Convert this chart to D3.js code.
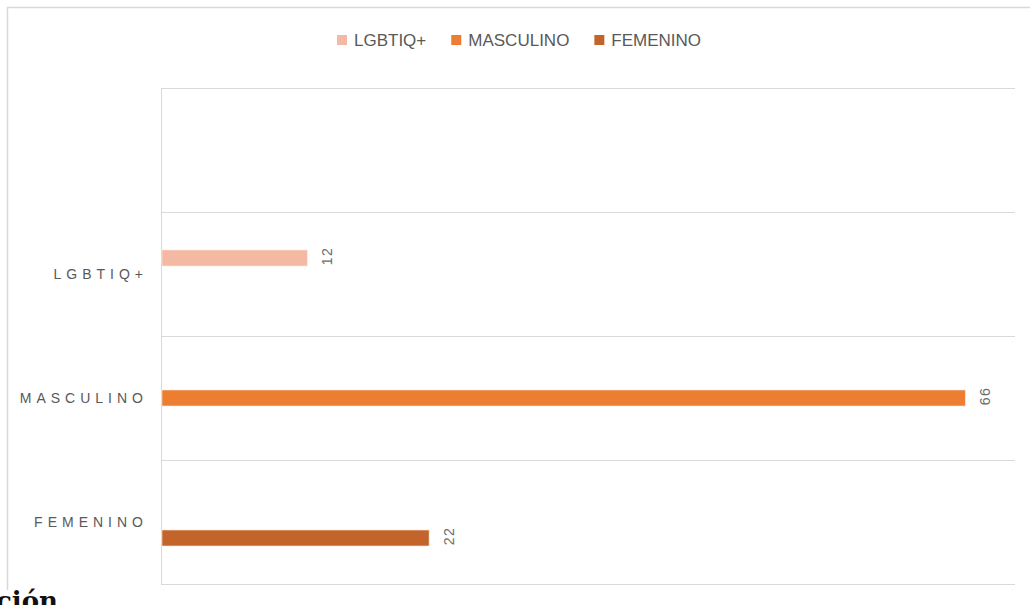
<!DOCTYPE html>
<html>
<head>
<meta charset="utf-8">
<script src="https://cdn.jsdelivr.net/npm/d3@7"></script>
<style>
  body { margin: 0; background: #fff; }
  svg { display: block; }
</style>
</head>
<body>
<svg width="1030" height="605"></svg>
<script>
// datos del grafico
var categorias = ["", "LGBTIQ+", "MASCULINO", "FEMENINO"];
var series = ["LGBTIQ+", "MASCULINO", "FEMENINO"];
var colores = ["#F4B9A3", "#ED7D31", "#C3652B"];
var valoresLgbtiq = [null, 12, null, null];
var valoresMasculino = [null, null, 66, null];
var valoresFemenino = [null, null, null, 22];
var valores = [valoresLgbtiq, valoresMasculino, valoresFemenino];

var svg = d3.select("svg");
var gris = "#595959";
var lineaGris = "#d9d9d9";

// marco exterior (solo borde superior e izquierdo visibles)
svg.append("line").attr("x1", 7).attr("y1", 7.5).attr("x2", 1030).attr("y2", 7.5)
  .style("stroke", lineaGris).style("stroke-width", 1.5);
svg.append("line").attr("x1", 7.5).attr("y1", 7).attr("x2", 7.5).attr("y2", 590)
  .style("stroke", lineaGris).style("stroke-width", 1.5);

var x = d3.scaleLinear().domain([0, 70]).range([161, 1014]);
var y = d3.scaleBand().domain(d3.range(categorias.length)).range([88, 584]).padding(0);
var ySerie = d3.scaleBand().domain(series).range([0, y.bandwidth()])
  .paddingInner(0).paddingOuter(2.375);

// lineas de cuadricula horizontales
var cortes = d3.range(categorias.length + 1).map(function (i) {
  return i < categorias.length ? y(i) : y.range()[1];
});
svg.append("g").selectAll("line")
  .data(cortes)
  .enter().append("line")
  .attr("x1", x(0)).attr("x2", 1015)
  .attr("y1", function (d) { return Math.round(d) + 0.5; })
  .attr("y2", function (d) { return Math.round(d) + 0.5; })
  .style("stroke", lineaGris).style("stroke-width", 1);

// eje vertical
svg.append("line")
  .attr("x1", x(0) + 0.5).attr("x2", x(0) + 0.5)
  .attr("y1", 88).attr("y2", 584.5)
  .style("stroke", lineaGris).style("stroke-width", 1);

// etiquetas de categorias
svg.append("g").selectAll("text")
  .data(categorias)
  .enter().append("text")
  .attr("x", 148)
  .attr("y", function (d, i) { return y(i) + y.bandwidth() / 2; })
  .attr("dy", "0.35em")
  .attr("text-anchor", "end")
  .attr("font-family", "Liberation Sans, Arial, sans-serif")
  .attr("font-size", 14)
  .attr("letter-spacing", "5px")
  .attr("fill", gris)
  .text(function (d) { return d; });

// barras
series.forEach(function (s, k) {
  var g = svg.append("g");
  var datos = valores[k].map(function (v, i) { return { i: i, v: v }; })
    .filter(function (d) { return d.v != null; });

  g.selectAll("rect")
    .data(datos)
    .enter().append("rect")
    .attr("x", x(0) + 1)
    .attr("y", function (d) { return y(d.i) + ySerie(s); })
    .attr("width", function (d) { return x(d.v) - x(0) - 1; })
    .attr("height", ySerie.bandwidth())
    .style("fill", colores[k])
    .style("stroke", "#fbe3d6")
    .style("stroke-width", 0.6);

  g.selectAll("text")
    .data(datos)
    .enter().append("text")
    .attr("transform", function (d) {
      var cx = x(d.v) + 20;
      var cy = y(d.i) + ySerie(s) + ySerie.bandwidth() / 2 - 2;
      return "translate(" + cx + "," + cy + ") rotate(-90)";
    })
    .attr("text-anchor", "middle")
    .attr("dy", "0.35em")
    .attr("font-family", "Liberation Sans, Arial, sans-serif")
    .attr("font-size", 14)
    .attr("letter-spacing", "1.5px")
    .attr("fill", "#6b6b6b")
    .text(function (d) { return d.v; });
});

// leyenda
var leyenda = svg.append("g");
var lx = 337;
series.forEach(function (s, k) {
  leyenda.append("rect")
    .attr("x", lx).attr("y", 35)
    .attr("width", 10).attr("height", 10)
    .style("fill", colores[k]);
  var t = leyenda.append("text")
    .attr("x", lx + 17).attr("y", 40)
    .attr("dy", "0.35em")
    .attr("font-family", "Liberation Sans, Arial, sans-serif")
    .attr("font-size", 17)
    .attr("fill", gris)
    .text(s);
  lx += 17 + t.node().getComputedTextLength() + 25;
});

// texto del documento que asoma por debajo
svg.append("text")
  .attr("x", -4).attr("y", 610)
  .attr("font-family", "DejaVu Serif, serif")
  .attr("font-weight", "bold")
  .attr("font-size", 26)
  .attr("fill", "#111")
  .text("ción");
</script>
</body>
</html>
